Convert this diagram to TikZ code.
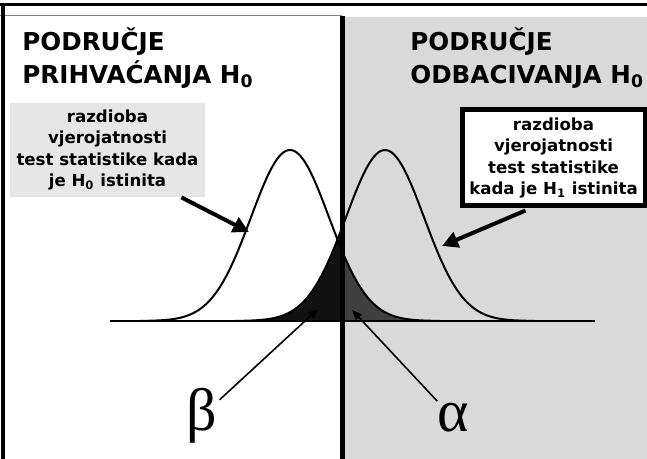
\documentclass[tikz,border=0pt]{standalone}
\usepackage{fontspec}
\setmainfont{DejaVu Sans}
\newfontfamily\greekfont{Liberation Serif}
\usetikzlibrary{arrows.meta,calc,positioning}
\definecolor{panelgray}{HTML}{D9D9D9}
\definecolor{boxgray}{HTML}{E6E6E6}
\definecolor{alphagray}{HTML}{404040}
\definecolor{betablack}{HTML}{111111}

\tikzset{
  regiontitle/.style={anchor=north west, align=left, inner sep=0pt,
    font=\fontsize{12.3}{16.5}\selectfont\bfseries},
  distbox/.style={align=center, inner sep=0pt,
    font=\fontsize{8.3}{10.6}\selectfont\bfseries},
  greeklabel/.style={inner sep=1pt, font=\fontsize{30}{32}\selectfont\greekfont},
  fatarrow/.style={-{Triangle[length=8pt,width=8pt]}, line width=2pt},
  thinarrow/.style={-{Triangle[length=5pt,width=4pt]}, line width=0.8pt}
}

\begin{document}
\begin{tikzpicture}[x=0.5pt,y=-0.5pt]
  \useasboundingbox (0,0) rectangle (647,459);
  % rejection region
  \fill[panelgray] (342,17) rectangle (647,459);
  % shaded error areas
  \fill[betablack] (225,321) -- plot[domain=225:342, samples=50]
    (\x,{321-171*exp(-0.5*((\x-385)/39)*((\x-385)/39))}) -- (342,321) -- cycle;
  \fill[alphagray] (342,321) -- plot[domain=342:450, samples=50]
    (\x,{321-171*exp(-0.5*((\x-290)/39)*((\x-290)/39))}) -- (450,321) -- cycle;
  % the two distributions
  \draw[line width=1pt] plot[domain=140:440, samples=120]
    (\x,{321-171*exp(-0.5*((\x-290)/39)*((\x-290)/39))});
  \draw[line width=1pt] plot[domain=235:535, samples=120]
    (\x,{321-171*exp(-0.5*((\x-385)/39)*((\x-385)/39))});
  \draw[line width=0.75pt] (110,321) -- (595,321);
  % frame and critical value
  \draw[line width=1.5pt] (0,5) -- (647,5);
  \draw[gray, line width=0.5pt] (0,16) -- (342,16);
  \draw[line width=1.8pt] (3,5) -- (3,459);
  \draw[line width=2.5pt] (342,16) -- (342,459);

  \node[regiontitle] (accept) at (22,27) {PODRUČJE\\PRIHVAĆANJA H\textsubscript{0}};
  \node[regiontitle] (reject) at (410,27) {PODRUČJE\\ODBACIVANJA H\textsubscript{0}};

  \node[distbox, fill=boxgray, minimum width=97.5pt, minimum height=47pt]
    (h0box) at (107.5,150) {razdioba\\vjerojatnosti\\test statistike kada\\je H\textsubscript{0} istinita};
  \node[distbox, fill=white, draw, line width=2.5pt, minimum width=91.5pt, minimum height=48pt]
    (h1box) at (553.5,158) {razdioba\\vjerojatnosti\\test statistike\\kada je H\textsubscript{1} istinita};

  \coordinate (h0tip) at (249,232);
  \coordinate (h1tip) at (442,246);
  \draw[fatarrow] ($(h0box.south east)+(-24,0)$) -- (h0tip);
  \draw[fatarrow] ($(h1box.south)+(-28,2)$) -- (h1tip);

  \node[greeklabel] (beta) at (202,416) {β};
  \node[greeklabel] (alpha) at (453,418) {α};
  \coordinate (betatip) at (318,309);
  \coordinate (alphatip) at (352,310);
  \draw[thinarrow] (beta) -- (betatip);
  \draw[thinarrow] (alpha) -- (alphatip);
\end{tikzpicture}
\end{document}
